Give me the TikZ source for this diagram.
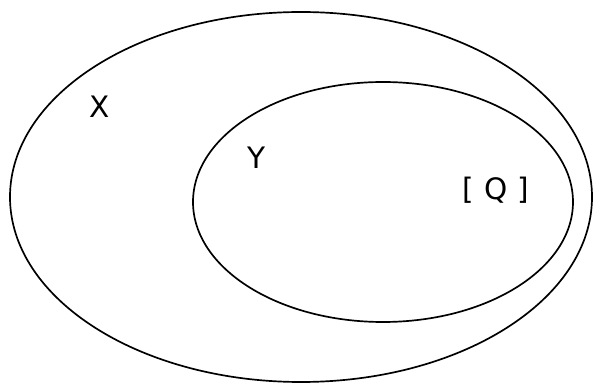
\documentclass[tikz,border=0pt]{standalone}
\usepackage{fontspec}
\setmainfont{DejaVu Sans}

\begin{document}
\begin{tikzpicture}[
  font=\fontsize{21}{24}\selectfont,
  set/.style={draw=black, line width=1.2pt},
  setlabel/.style={inner sep=0pt}
]
\useasboundingbox (0, 0) rectangle (15, 9.725);
\draw[set] (7.525, 4.8) ellipse [x radius=7.275, y radius=4.625];
\draw[set] (9.575, 4.675) ellipse [x radius=4.75, y radius=3.0];

\node[setlabel] (labx) at (2.5, 7.05)    {X};
\node[setlabel] (laby) at (6.425, 5.775) {Y};
\node[setlabel] (labq) at (12.4, 4.975) {[\hspace{0.35em}Q\hspace{0.35em}]};
\end{tikzpicture}
\end{document}
